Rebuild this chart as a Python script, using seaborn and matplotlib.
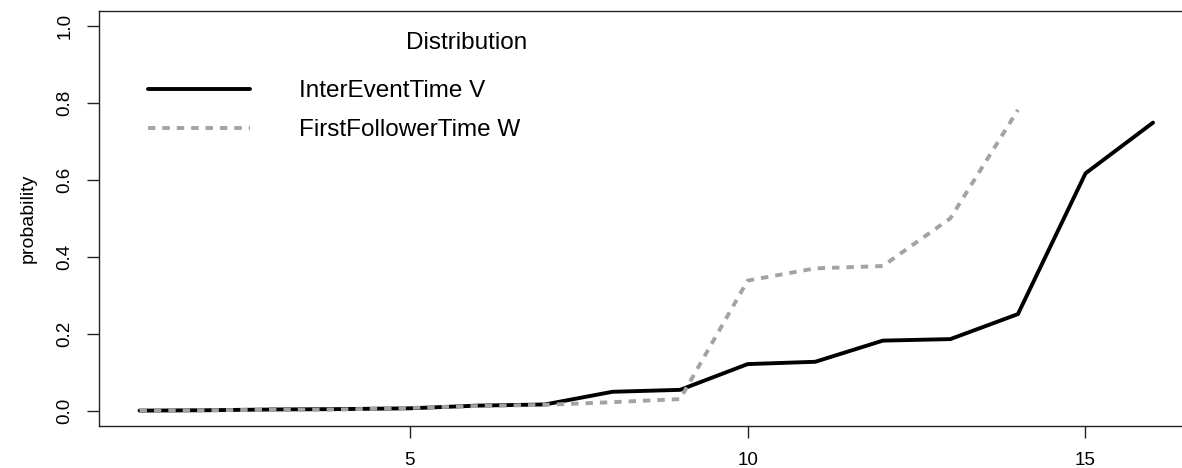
import matplotlib
matplotlib.use("Agg")
import matplotlib.pyplot as plt
import seaborn as sns
import pandas as pd

# Cumulative probabilities per step
inter_event_x = list(range(1, 17))
inter_event_v = [0.000, 0.001, 0.003, 0.004, 0.006, 0.013, 0.016, 0.049,
                 0.054, 0.121, 0.127, 0.182, 0.186, 0.251, 0.617, 0.749]
first_follower_x = list(range(1, 15))
first_follower_w = [0.000, 0.001, 0.002, 0.003, 0.007, 0.012, 0.015, 0.022,
                    0.030, 0.338, 0.370, 0.376, 0.500, 0.782]

series_labels = ["InterEventTime V", "FirstFollowerTime W"]
legend_title = "Distribution"
y_label = "probability"
x_ticks = [5, 10, 15]
y_ticks = [0.0, 0.2, 0.4, 0.6, 0.8, 1.0]
y_tick_labels = ["0.0", "0.2", "0.4", "0.6", "0.8", "1.0"]

sns.set_style("ticks")
plt.rcParams["font.family"] = ["Liberation Sans", "DejaVu Sans"]
plt.rcParams["text.color"] = "black"
plt.rcParams["axes.labelcolor"] = "black"
plt.rcParams["xtick.color"] = "black"
plt.rcParams["ytick.color"] = "black"

df_v = pd.DataFrame({"x": inter_event_x, "p": inter_event_v})
df_w = pd.DataFrame({"x": first_follower_x, "p": first_follower_w})

W, H = 1182, 468
fig = plt.figure(figsize=(W / 100, H / 100), dpi=100)
ax = fig.add_axes([99 / W, (H - 426) / H, 1094.6 / W, 415.3 / H])

black_color = "#000000"
grey_color = "#a3a3a3"
lw = 2.8

sns.lineplot(data=df_v, x="x", y="p", ax=ax, color=black_color, linewidth=lw,
             legend=False, solid_capstyle="round", solid_joinstyle="round")
sns.lineplot(data=df_w, x="x", y="p", ax=ax, color=grey_color, linewidth=lw,
             legend=False, dash_capstyle="butt")
ax.lines[1].set_dashes((1.9, 1.8))

ax.set_xlim(0.4, 16.6)
ax.set_ylim(-0.04, 1.04)
ax.set_xticks(x_ticks)
ax.set_xticklabels([str(t) for t in x_ticks])
ax.set_yticks(y_ticks)
ax.set_yticklabels(y_tick_labels)
ax.set_xlabel("")
ax.set_ylabel(y_label, fontsize=14, labelpad=14)

ax.tick_params(axis="both", direction="out", length=8.6, width=1.0,
               color="#222222", labelcolor="black", labelsize=13.5, pad=10)
ax.tick_params(axis="y", labelrotation=90)
for lab in ax.get_yticklabels():
    lab.set_va("center")

for s in ax.spines.values():
    s.set_visible(True)
    s.set_linewidth(1.0)
    s.set_color("#222222")

handles = ax.lines[:2]
leg = ax.legend(handles, series_labels, loc="upper left",
                bbox_to_anchor=(148 / W, (H - 80) / H),
                bbox_transform=fig.transFigure, frameon=False,
                fontsize=17.5, handlelength=4.2, handletextpad=2.0,
                labelspacing=0.71, borderpad=0, borderaxespad=0)
for t in leg.get_texts():
    t.set_color("black")
fig.text(467 / W, (H - 43) / H, legend_title, fontsize=17.5,
         ha="center", va="center", color="black")

fig.savefig("out.png", dpi=100)
